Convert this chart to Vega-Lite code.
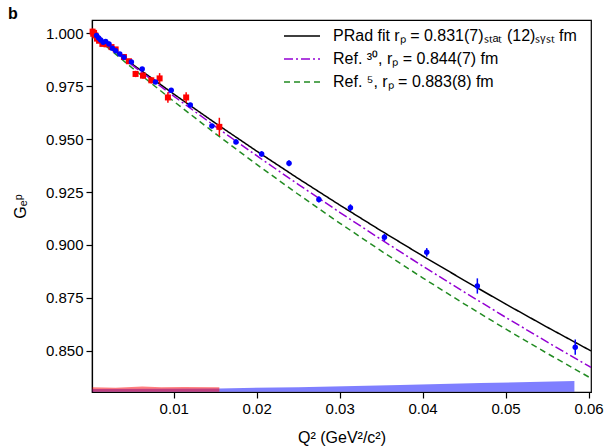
{
  "$schema": "https://vega.github.io/schema/vega-lite/v6.json",
  "width": 499,
  "height": 372,
  "autosize": {"type": "none"},
  "padding": {"left": 92, "top": 20, "right": 14, "bottom": 54},
  "title": {"text": "b", "anchor": "start", "frame": "group", "fontSize": 16, "fontWeight": "bold", "font": "Liberation Sans", "dx": -84, "offset": -2, "color": "black"},
  "config": {
    "font": "Liberation Sans",
    "view": {"stroke": "black", "strokeWidth": 1.2},
    "axis": {"grid": false, "domainColor": "black", "tickColor": "black", "labelColor": "black", "titleColor": "black", "labelFontSize": 15, "titleFontSize": 16, "titleFontWeight": "normal", "tickSize": 6, "labelPadding": 3, "domainWidth": 1.2, "tickWidth": 1.2, "labelFont": "Liberation Sans", "titleFont": "Liberation Sans"},
    "legend": {"orient": "none", "legendX": 197, "legendY": 3, "symbolType": "M-1.5,0H1.5", "symbolSize": 576, "symbolStrokeWidth": 1.5, "labelFontSize": 16, "labelFont": "Liberation Sans", "labelColor": "black", "labelOffset": 18, "rowPadding": 2, "labelLimit": 400}
  },
  "datasets": {
    "bands": [
      {"beam": "2.2", "q2": 0.0002, "top": 0.8319, "bottom": 0.8306},
      {"beam": "2.2", "q2": 0.0155, "top": 0.8322, "bottom": 0.8306},
      {"beam": "2.2", "q2": 0.025, "top": 0.8328, "bottom": 0.8306},
      {"beam": "2.2", "q2": 0.0373, "top": 0.8338, "bottom": 0.8306},
      {"beam": "2.2", "q2": 0.047, "top": 0.8347, "bottom": 0.8306},
      {"beam": "2.2", "q2": 0.0583, "top": 0.8357, "bottom": 0.8306},
      {"beam": "1.1", "q2": 0.0002, "top": 0.8328, "bottom": 0.8306},
      {"beam": "1.1", "q2": 0.003, "top": 0.8325, "bottom": 0.8306},
      {"beam": "1.1", "q2": 0.0062, "top": 0.8331, "bottom": 0.8306},
      {"beam": "1.1", "q2": 0.0085, "top": 0.8327, "bottom": 0.8306},
      {"beam": "1.1", "q2": 0.0112, "top": 0.8329, "bottom": 0.8306},
      {"beam": "1.1", "q2": 0.0155, "top": 0.8328, "bottom": 0.8306}
    ],
    "curves": [
      {"model": "PRad fit rₚ = 0.831(7)ₛₜₐₜ (12)ₛᵧₛₜ fm", "q2": 0.0, "ge": 1.0},
      {"model": "PRad fit rₚ = 0.831(7)ₛₜₐₜ (12)ₛᵧₛₜ fm", "q2": 0.005, "ge": 0.98544},
      {"model": "PRad fit rₚ = 0.831(7)ₛₜₐₜ (12)ₛᵧₛₜ fm", "q2": 0.01, "ge": 0.97132},
      {"model": "PRad fit rₚ = 0.831(7)ₛₜₐₜ (12)ₛᵧₛₜ fm", "q2": 0.015, "ge": 0.95763},
      {"model": "PRad fit rₚ = 0.831(7)ₛₜₐₜ (12)ₛᵧₛₜ fm", "q2": 0.02, "ge": 0.94433},
      {"model": "PRad fit rₚ = 0.831(7)ₛₜₐₜ (12)ₛᵧₛₜ fm", "q2": 0.025, "ge": 0.93142},
      {"model": "PRad fit rₚ = 0.831(7)ₛₜₐₜ (12)ₛᵧₛₜ fm", "q2": 0.03, "ge": 0.91888},
      {"model": "PRad fit rₚ = 0.831(7)ₛₜₐₜ (12)ₛᵧₛₜ fm", "q2": 0.035, "ge": 0.90669},
      {"model": "PRad fit rₚ = 0.831(7)ₛₜₐₜ (12)ₛᵧₛₜ fm", "q2": 0.04, "ge": 0.89483},
      {"model": "PRad fit rₚ = 0.831(7)ₛₜₐₜ (12)ₛᵧₛₜ fm", "q2": 0.045, "ge": 0.8833},
      {"model": "PRad fit rₚ = 0.831(7)ₛₜₐₜ (12)ₛᵧₛₜ fm", "q2": 0.05, "ge": 0.87209},
      {"model": "PRad fit rₚ = 0.831(7)ₛₜₐₜ (12)ₛᵧₛₜ fm", "q2": 0.055, "ge": 0.86117},
      {"model": "PRad fit rₚ = 0.831(7)ₛₜₐₜ (12)ₛᵧₛₜ fm", "q2": 0.0603, "ge": 0.84991},
      {"model": "Ref. ³⁰, rₚ = 0.844(7) fm", "q2": 0.0, "ge": 1.0},
      {"model": "Ref. ³⁰, rₚ = 0.844(7) fm", "q2": 0.005, "ge": 0.98496},
      {"model": "Ref. ³⁰, rₚ = 0.844(7) fm", "q2": 0.01, "ge": 0.97031},
      {"model": "Ref. ³⁰, rₚ = 0.844(7) fm", "q2": 0.015, "ge": 0.95605},
      {"model": "Ref. ³⁰, rₚ = 0.844(7) fm", "q2": 0.02, "ge": 0.94216},
      {"model": "Ref. ³⁰, rₚ = 0.844(7) fm", "q2": 0.025, "ge": 0.92863},
      {"model": "Ref. ³⁰, rₚ = 0.844(7) fm", "q2": 0.03, "ge": 0.91543},
      {"model": "Ref. ³⁰, rₚ = 0.844(7) fm", "q2": 0.035, "ge": 0.90258},
      {"model": "Ref. ³⁰, rₚ = 0.844(7) fm", "q2": 0.04, "ge": 0.89002},
      {"model": "Ref. ³⁰, rₚ = 0.844(7) fm", "q2": 0.045, "ge": 0.87778},
      {"model": "Ref. ³⁰, rₚ = 0.844(7) fm", "q2": 0.05, "ge": 0.86583},
      {"model": "Ref. ³⁰, rₚ = 0.844(7) fm", "q2": 0.055, "ge": 0.85418},
      {"model": "Ref. ³⁰, rₚ = 0.844(7) fm", "q2": 0.0603, "ge": 0.8421},
      {"model": "Ref. ⁵, rₚ = 0.883(8) fm", "q2": 0.0, "ge": 1.0},
      {"model": "Ref. ⁵, rₚ = 0.883(8) fm", "q2": 0.005, "ge": 0.98363},
      {"model": "Ref. ⁵, rₚ = 0.883(8) fm", "q2": 0.01, "ge": 0.96787},
      {"model": "Ref. ⁵, rₚ = 0.883(8) fm", "q2": 0.015, "ge": 0.95269},
      {"model": "Ref. ⁵, rₚ = 0.883(8) fm", "q2": 0.02, "ge": 0.93806},
      {"model": "Ref. ⁵, rₚ = 0.883(8) fm", "q2": 0.025, "ge": 0.92395},
      {"model": "Ref. ⁵, rₚ = 0.883(8) fm", "q2": 0.03, "ge": 0.91034},
      {"model": "Ref. ⁵, rₚ = 0.883(8) fm", "q2": 0.035, "ge": 0.89718},
      {"model": "Ref. ⁵, rₚ = 0.883(8) fm", "q2": 0.04, "ge": 0.88447},
      {"model": "Ref. ⁵, rₚ = 0.883(8) fm", "q2": 0.045, "ge": 0.87219},
      {"model": "Ref. ⁵, rₚ = 0.883(8) fm", "q2": 0.05, "ge": 0.8603},
      {"model": "Ref. ⁵, rₚ = 0.883(8) fm", "q2": 0.055, "ge": 0.84879},
      {"model": "Ref. ⁵, rₚ = 0.883(8) fm", "q2": 0.0603, "ge": 0.83699}
    ],
    "points": [
      {"beam": "1.1", "q2": 0.00022, "ge": 1.0008, "err": 0.0015},
      {"beam": "1.1", "q2": 0.0003, "ge": 0.9998, "err": 0.0012},
      {"beam": "1.1", "q2": 0.0004, "ge": 1.0002, "err": 0.0012},
      {"beam": "1.1", "q2": 0.00055, "ge": 0.999, "err": 0.001},
      {"beam": "1.1", "q2": 0.00075, "ge": 0.9975, "err": 0.001},
      {"beam": "1.1", "q2": 0.001, "ge": 0.9965, "err": 0.001},
      {"beam": "1.1", "q2": 0.0014, "ge": 0.995, "err": 0.001},
      {"beam": "1.1", "q2": 0.0019, "ge": 0.9948, "err": 0.001},
      {"beam": "1.1", "q2": 0.0025, "ge": 0.9935, "err": 0.001},
      {"beam": "1.1", "q2": 0.003, "ge": 0.9924, "err": 0.001},
      {"beam": "1.1", "q2": 0.004, "ge": 0.9888, "err": 0.0012},
      {"beam": "1.1", "q2": 0.0046, "ge": 0.9868, "err": 0.0012},
      {"beam": "1.1", "q2": 0.0054, "ge": 0.9808, "err": 0.0015},
      {"beam": "1.1", "q2": 0.0063, "ge": 0.98, "err": 0.0015},
      {"beam": "1.1", "q2": 0.0073, "ge": 0.9778, "err": 0.0015},
      {"beam": "1.1", "q2": 0.0083, "ge": 0.9787, "err": 0.0025},
      {"beam": "1.1", "q2": 0.0093, "ge": 0.9697, "err": 0.0025},
      {"beam": "1.1", "q2": 0.0115, "ge": 0.9697, "err": 0.0025},
      {"beam": "1.1", "q2": 0.0155, "ge": 0.9558, "err": 0.0043},
      {"beam": "2.2", "q2": 0.0007, "ge": 0.999, "err": 0.0008},
      {"beam": "2.2", "q2": 0.00095, "ge": 0.9978, "err": 0.0008},
      {"beam": "2.2", "q2": 0.0012, "ge": 0.9968, "err": 0.0008},
      {"beam": "2.2", "q2": 0.0015, "ge": 0.9958, "err": 0.0008},
      {"beam": "2.2", "q2": 0.0018, "ge": 0.9962, "err": 0.0008},
      {"beam": "2.2", "q2": 0.0022, "ge": 0.995, "err": 0.0008},
      {"beam": "2.2", "q2": 0.0026, "ge": 0.993, "err": 0.0008},
      {"beam": "2.2", "q2": 0.003, "ge": 0.9918, "err": 0.0008},
      {"beam": "2.2", "q2": 0.0035, "ge": 0.9902, "err": 0.0008},
      {"beam": "2.2", "q2": 0.004, "ge": 0.9887, "err": 0.0008},
      {"beam": "2.2", "q2": 0.0049, "ge": 0.9865, "err": 0.0008},
      {"beam": "2.2", "q2": 0.0062, "ge": 0.9832, "err": 0.0009},
      {"beam": "2.2", "q2": 0.0078, "ge": 0.977, "err": 0.0009},
      {"beam": "2.2", "q2": 0.0097, "ge": 0.9731, "err": 0.001},
      {"beam": "2.2", "q2": 0.012, "ge": 0.9661, "err": 0.001},
      {"beam": "2.2", "q2": 0.0146, "ge": 0.9562, "err": 0.0011},
      {"beam": "2.2", "q2": 0.0175, "ge": 0.9487, "err": 0.0012},
      {"beam": "2.2", "q2": 0.0206, "ge": 0.943, "err": 0.0013},
      {"beam": "2.2", "q2": 0.0239, "ge": 0.9386, "err": 0.0014},
      {"beam": "2.2", "q2": 0.0275, "ge": 0.9215, "err": 0.0015},
      {"beam": "2.2", "q2": 0.0313, "ge": 0.9176, "err": 0.0016},
      {"beam": "2.2", "q2": 0.0354, "ge": 0.9036, "err": 0.0017},
      {"beam": "2.2", "q2": 0.0405, "ge": 0.8965, "err": 0.002},
      {"beam": "2.2", "q2": 0.0466, "ge": 0.8806, "err": 0.0036},
      {"beam": "2.2", "q2": 0.0584, "ge": 0.8517, "err": 0.0036}
    ]
  },
  "encoding": {
    "x": {"field": "q2", "type": "quantitative", "scale": {"domain": [0.00015, 0.0603], "nice": false, "zero": false}, "axis": {"title": "Q² (GeV²/c²)", "values": [0.01, 0.02, 0.03, 0.04, 0.05, 0.06], "format": ".2f", "labelFlush": false, "labelOverlap": false, "titlePadding": 13}}
  },
  "layer": [
    {
      "data": {"name": "bands"},
      "transform": [{"filter": "datum.beam == '2.2'"}],
      "mark": {"type": "area", "color": "#0000ff", "opacity": 0.5, "clip": true},
      "encoding": {
        "y": {"field": "top", "type": "quantitative", "scale": {"domain": [0.8305, 1.0063], "nice": false, "zero": false}, "axis": {"title": "Gₑᵖ", "values": [0.85, 0.875, 0.9, 0.925, 0.95, 0.975, 1.0], "format": ".3f", "titlePadding": 17}},
        "y2": {"field": "bottom"}
      }
    },
    {
      "data": {"name": "bands"},
      "transform": [{"filter": "datum.beam == '1.1'"}],
      "mark": {"type": "area", "color": "#ff0000", "opacity": 0.5, "clip": true},
      "encoding": {
        "y": {"field": "top", "type": "quantitative", "axis": {"title": "Gₑᵖ"}},
        "y2": {"field": "bottom"}
      }
    },
    {
      "data": {"name": "curves"},
      "mark": {"type": "line", "strokeWidth": 1.5, "clip": true},
      "encoding": {
        "y": {"field": "ge", "type": "quantitative", "axis": {"title": "Gₑᵖ"}},
        "color": {"field": "model", "type": "nominal", "scale": {"domain": ["PRad fit rₚ = 0.831(7)ₛₜₐₜ (12)ₛᵧₛₜ fm", "Ref. ³⁰, rₚ = 0.844(7) fm", "Ref. ⁵, rₚ = 0.883(8) fm"], "range": ["#000000", "#9400d3", "#228b22"]}, "legend": {"title": null}},
        "strokeDash": {"field": "model", "type": "nominal", "scale": {"domain": ["PRad fit rₚ = 0.831(7)ₛₜₐₜ (12)ₛᵧₛₜ fm", "Ref. ³⁰, rₚ = 0.844(7) fm", "Ref. ⁵, rₚ = 0.883(8) fm"], "range": [[1, 0], [9, 3, 2, 3], [6, 4]]}, "legend": {"title": null}}
      }
    },
    {
      "data": {"name": "points"},
      "transform": [{"filter": "datum.beam == '1.1'"}],
      "mark": {"type": "errorbar", "color": "#ff0000", "thickness": 1.5},
      "encoding": {
        "y": {"field": "ge", "type": "quantitative", "axis": {"title": "Gₑᵖ"}},
        "yError": {"field": "err"}
      }
    },
    {
      "data": {"name": "points"},
      "transform": [{"filter": "datum.beam == '1.1'"}],
      "mark": {"type": "point", "shape": "square", "filled": true, "color": "#ff0000", "size": 36, "opacity": 1},
      "encoding": {
        "y": {"field": "ge", "type": "quantitative", "axis": {"title": "Gₑᵖ"}}
      }
    },
    {
      "data": {"name": "points"},
      "transform": [{"filter": "datum.beam == '2.2'"}],
      "mark": {"type": "errorbar", "color": "#0000ff", "thickness": 1.5},
      "encoding": {
        "y": {"field": "ge", "type": "quantitative", "axis": {"title": "Gₑᵖ"}},
        "yError": {"field": "err"}
      }
    },
    {
      "data": {"name": "points"},
      "transform": [{"filter": "datum.beam == '2.2'"}],
      "mark": {"type": "point", "shape": "circle", "filled": true, "color": "#0000ff", "size": 30, "opacity": 1},
      "encoding": {
        "y": {"field": "ge", "type": "quantitative", "axis": {"title": "Gₑᵖ"}}
      }
    }
  ]
}
